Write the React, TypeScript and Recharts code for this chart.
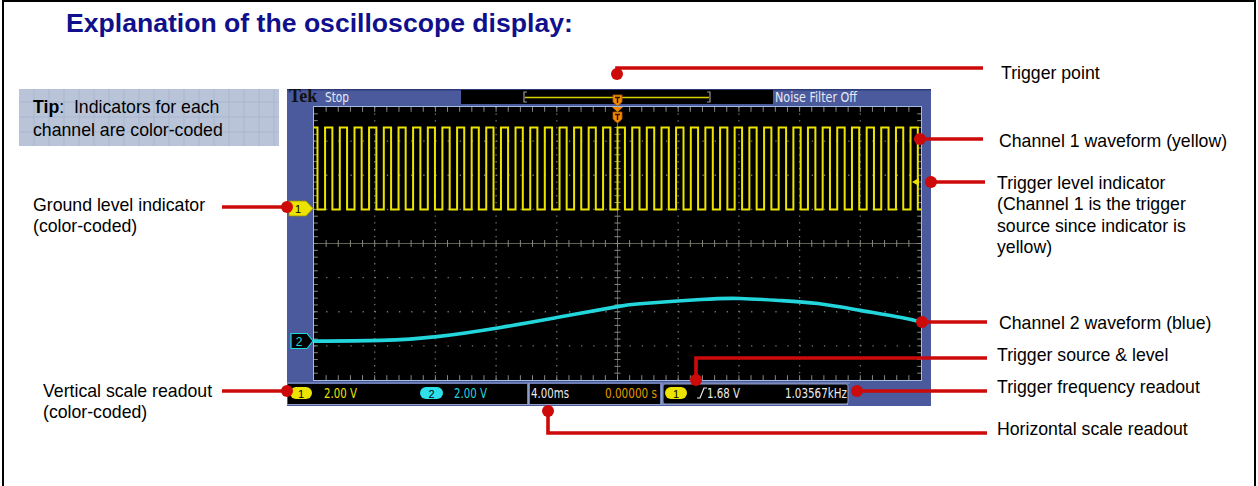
import React from 'react';
import { ComposedChart, Line, XAxis, YAxis, ReferenceLine } from 'recharts';

// ---- data (time in ms, amplitude in screen divisions) ----
const timeTicks = [-20, -16, -12, -8, -4, 0, 4, 8, 12, 16, 20];
const divTicks = [-4, -3, -2, -1, 0, 1, 2, 3, 4];

const ch1HighDiv = 3.4;
const ch1LowDiv = 1.0;
const ch1Rising = [
  -19.27, -18.3, -17.33, -16.37, -15.4, -14.43, -13.47, -12.5, -11.54, -10.57,
  -9.61, -8.65, -7.68, -6.72, -5.75, -4.79, -3.82, -2.86, -1.9, -0.95, 0,
  0.97, 1.93, 2.9, 3.86, 4.83, 5.79, 6.76, 7.72, 8.69, 9.66, 10.62, 11.59,
  12.55, 13.52, 14.48, 15.45, 16.42, 17.38, 18.35, 19.31,
];
const ch1Falling = [
  -19.77, -18.79, -17.82, -16.86, -15.89, -14.92, -13.96, -12.99, -12.03, -11.06,
  -10.1, -9.14, -8.17, -7.21, -6.24, -5.28, -4.31, -3.35, -2.39, -1.43, -0.47,
  0.49, 1.45, 2.42, 3.38, 4.35, 5.31, 6.28, 7.24, 8.21, 9.17, 10.14, 11.11,
  12.07, 13.04, 14.0, 14.97, 15.93, 16.9, 17.86, 18.83, 19.79,
];

const ch2Time = [-20, -15.6, -11.9, -7.7, -4.0, 0, 1.7, 5.5, 8.1, 10.7, 13.2, 16.0, 18.7, 20];
const ch2Div = [-2.86, -2.84, -2.73, -2.46, -2.17, -1.85, -1.76, -1.64, -1.61, -1.67, -1.76, -1.96, -2.17, -2.3];

// ---- build series tables ----
const ch1Edges = [
  ...ch1Rising.map((t) => ({ t, to: ch1HighDiv })),
  ...ch1Falling.map((t) => ({ t, to: ch1LowDiv })),
].sort((a, b) => a.t - b.t);
const ch1Data: { t: number; v: number }[] = [{ t: -20, v: ch1HighDiv }];
{
  let level = ch1HighDiv;
  ch1Edges.forEach((e) => {
    ch1Data.push({ t: e.t, v: level });
    ch1Data.push({ t: e.t, v: e.to });
    level = e.to;
  });
  ch1Data.push({ t: 20, v: level });
}
const ch2Data = ch2Time.map((t, i) => ({ t, v: ch2Div[i] }));

// decoration: minor graticule ticks
const minorT = Array.from({ length: 49 }, (_, i) => -19.2 + i * 0.8);
const minorD = Array.from({ length: 39 }, (_, i) => -3.8 + i * 0.2);

const SANS = '"Liberation Sans", Arial, sans-serif';
const NARROW = '"Liberation Sans Narrow", "DejaVu Sans Condensed", "Arial Narrow", sans-serif';
const RED = '#cc0a0a';
const FRAME = '#4a5a9c';
const YEL = '#ece400';
const CYAN = '#22d6dc';

function Scope() {
  const tickStroke = '#8a8a80';
  return (
    <ComposedChart width={607} height={273} margin={{ top: 0, right: 0, bottom: 0, left: 0 }}>
      <XAxis hide type="number" dataKey="t" domain={[-20, 20]} ticks={timeTicks} allowDataOverflow />
      <YAxis hide type="number" domain={[-4, 4]} ticks={divTicks} allowDataOverflow />
      {timeTicks
        .filter((t) => t !== 0 && Math.abs(t) !== 20)
        .map((t) => (
          <ReferenceLine key={'gx' + t} x={t} stroke="#777" strokeWidth={1.3} strokeDasharray="1.3 5.5" />
        ))}
      {divTicks
        .filter((d) => d !== 0 && Math.abs(d) !== 4)
        .map((d) => (
          <ReferenceLine key={'gy' + d} y={d} stroke="#777" strokeWidth={1.3} strokeDasharray="1.3 10.84" />
        ))}
      <ReferenceLine x={0} stroke="#5e5e52" strokeWidth={1} />
      <ReferenceLine y={0} stroke="#5e5e52" strokeWidth={1} />
      {minorT.map((t) => (
        <ReferenceLine key={'mc' + t} segment={[{ x: t, y: -0.1 }, { x: t, y: 0.1 }]} stroke={tickStroke} />
      ))}
      {minorT.map((t) => (
        <ReferenceLine key={'mt' + t} segment={[{ x: t, y: 4 }, { x: t, y: 3.86 }]} stroke={tickStroke} />
      ))}
      {minorT.map((t) => (
        <ReferenceLine key={'mb' + t} segment={[{ x: t, y: -4 }, { x: t, y: -3.86 }]} stroke={tickStroke} />
      ))}
      {minorD.map((d) => (
        <ReferenceLine key={'vc' + d} segment={[{ x: -0.2, y: d }, { x: 0.2, y: d }]} stroke={tickStroke} />
      ))}
      {minorD.map((d) => (
        <ReferenceLine key={'vl' + d} segment={[{ x: -20, y: d }, { x: -19.75, y: d }]} stroke={tickStroke} />
      ))}
      {minorD.map((d) => (
        <ReferenceLine key={'vr' + d} segment={[{ x: 20, y: d }, { x: 19.75, y: d }]} stroke={tickStroke} />
      ))}
      <Line
        data={ch2Data}
        dataKey="v"
        type="natural"
        stroke={CYAN}
        strokeWidth={3.6}
        dot={false}
        isAnimationActive={false}
      />
      <Line
        data={ch1Data}
        dataKey="v"
        type="linear"
        stroke={YEL}
        strokeWidth={2}
        dot={false}
        isAnimationActive={false}
      />
    </ComposedChart>
  );
}

function TMarker({ x, y }: { x: number; y: number }) {
  return (
    <g>
      <polygon
        points={`${x - 4.5},${y} ${x + 4.5},${y} ${x + 4.5},${y + 7} ${x},${y + 11} ${x - 4.5},${y + 7}`}
        fill="#f28a00"
        stroke="#b85a00"
        strokeWidth={0.8}
      />
      <path d={`M${x - 2.5},${y + 2.5} H${x + 2.5} M${x},${y + 2.5} V${y + 8}`} stroke="#2a1400" strokeWidth={1.4} />
    </g>
  );
}

function NText({ x, y, w, fill, children, anchor }: { x: number; y: number; w: number; fill: string; children: string; anchor?: string }) {
  const sx = anchor === 'end' ? x - w : x;
  return (
    <text x={sx} y={y} fontFamily={NARROW} fontSize={14} fill={fill} textLength={w} lengthAdjust="spacingAndGlyphs">
      {children}
    </text>
  );
}

export default function App() {
  const labels: [string, number, number][] = [
    ['Trigger point', 1001, 79],
    ['Channel 1 waveform (yellow)', 999, 147],
    ['Trigger level indicator', 997, 189],
    ['(Channel 1 is the trigger', 997, 210],
    ['source since indicator is', 997, 232],
    ['yellow)', 997, 253],
    ['Channel 2 waveform (blue)', 999, 329],
    ['Trigger source & level', 997, 361],
    ['Trigger frequency readout', 997, 393],
    ['Horizontal scale readout', 997, 435],
    ['Ground level indicator', 33, 211],
    ['(color-coded)', 33, 232],
    ['Vertical scale readout', 43, 397],
    ['(color-coded)', 43, 418],
  ];
  const tipGridX = Array.from({ length: 17 }, (_, i) => 19 + 15 * (i + 1));
  const tipGridY = [102, 117, 132];
  return (
    <div style={{ position: 'absolute', left: 0, top: 0, width: 1258, height: 486, background: '#fff', overflow: 'hidden' }}>
      {/* background layer */}
      <svg width={1258} height={486} style={{ position: 'absolute', left: 0, top: 0 }}>
        <rect x={3} y={1} width={1252} height={500} fill="none" stroke="#000" strokeWidth={2} />
        <text x={66} y={32} fontFamily={SANS} fontWeight="bold" fontSize={26.6} fill="#10108c">
          Explanation of the oscilloscope display:
        </text>
        {/* tip box */}
        <rect x={19} y={89} width={260} height={57} fill="#b9c4d9" />
        {tipGridX.map((x) => (
          <line key={'tx' + x} x1={x} y1={89} x2={x} y2={146} stroke="#a9b6ce" strokeWidth={1} />
        ))}
        {tipGridY.map((y) => (
          <line key={'ty' + y} x1={19} y1={y} x2={279} y2={y} stroke="#a9b6ce" strokeWidth={1} />
        ))}
        <text x={33} y={113} fontFamily={SANS} fontSize={17.7} fill="#000" style={{ whiteSpace: 'pre' }}>
          <tspan fontWeight="bold">Tip</tspan>
          <tspan>{':  Indicators for each'}</tspan>
        </text>
        <text x={33} y={136} fontFamily={SANS} fontSize={17.7} fill="#000">
          channel are color-coded
        </text>
        {labels.map(([s, x, y], i) => (
          <text key={'lb' + i} x={x} y={y} fontFamily={SANS} fontSize={17.7} fill="#000">
            {s}
          </text>
        ))}
        {/* scope frame */}
        <rect x={287} y={89} width={644} height={317} fill={FRAME} />
        <rect x={287} y={89} width={644} height={1.5} fill="#2c3a78" />
        <text x={289} y={102} fontFamily='"Liberation Serif", "DejaVu Serif", serif' fontWeight="bold" fontSize={18} fill="#111">
          Tek
        </text>
        <NText x={325} y={102} w={24} fill="#e6e9f4">Stop</NText>
        <rect x={461} y={90} width={312} height={14} fill="#000" />
        <path d="M527,92 H524 V102 H527 M707,92 H710 V102 H707" stroke="#9a9a9a" strokeWidth={1.2} fill="none" />
        <line x1={525} y1={97.5} x2={709} y2={97.5} stroke="#d6cf00" strokeWidth={1.6} />
        <NText x={775} y={102} w={82} fill="#e6e9f4">Noise Filter Off</NText>
        <rect x={313.5} y={106.5} width={608} height={274} fill="#000" stroke="#a2bce2" strokeWidth={1} />
        {/* bottom readout bar */}
        <line x1={287} y1={383} x2={850} y2={383} stroke="#8e9cc8" strokeWidth={1} />
        <rect x={288} y={384} width={239} height={20} fill="#000" />
        <rect x={530} y={384} width={130} height={20} fill="#000" />
        <rect x={663} y={384} width={185} height={20} rx={2} fill="#000" stroke="#8e9cc8" strokeWidth={1} />
        <line x1={528.5} y1={384} x2={528.5} y2={404} stroke="#8e9cc8" strokeWidth={2} strokeLinecap="round" />
        <line x1={661.5} y1={384} x2={661.5} y2={404} stroke="#8e9cc8" strokeWidth={2} strokeLinecap="round" />
        <line x1={287} y1={404.5} x2={848} y2={404.5} stroke="#8e9cc8" strokeWidth={1} />
        <rect x={290} y={387} width={22} height={12} rx={6} fill={YEL} />
        <text x={301} y={398} textAnchor="middle" fontFamily={SANS} fontSize={11} fill="#000">1</text>
        <NText x={324} y={398} w={33} fill={YEL}>2.00 V</NText>
        <rect x={420} y={387} width={23} height={12} rx={6} fill="#2ee0ea" />
        <text x={431.5} y={398} textAnchor="middle" fontFamily={SANS} fontSize={11} fill="#000">2</text>
        <NText x={454} y={398} w={33} fill={CYAN}>2.00 V</NText>
        <NText x={531} y={398} w={38} fill="#ececec">4.00ms</NText>
        <NText x={657} y={398} w={52} fill="#e29a00" anchor="end">0.00000 s</NText>
        <rect x={665} y={387} width={22} height={12} rx={6} fill={YEL} />
        <text x={676} y={398} textAnchor="middle" fontFamily={SANS} fontSize={11} fill="#000">1</text>
        <path d="M697,398 H700 L704,388 H707" stroke="#ececec" strokeWidth={1.2} fill="none" />
        <NText x={707} y={398} w={33} fill="#ececec">1.68 V</NText>
        <NText x={847} y={398} w={62} fill="#ececec" anchor="end">1.03567kHz</NText>
      </svg>

      {/* chart layer: oscilloscope screen */}
      <div style={{ position: 'absolute', left: 314, top: 107, width: 607, height: 273, background: '#000' }}>
        <Scope />
      </div>

      {/* overlay: markers and callouts */}
      <svg width={1258} height={486} style={{ position: 'absolute', left: 0, top: 0, pointerEvents: 'none' }}>
        <TMarker x={617.5} y={95} />
        <polygon points="612,107 623,107 617.5,112" fill="#f28a00" />
        <TMarker x={617.5} y={112} />
        <polygon points="289,201 306,201 313,208.5 306,216 289,216" fill={YEL} stroke="#9c8c00" strokeWidth={0.8} />
        <text x={298} y={213} textAnchor="middle" fontFamily={SANS} fontSize={11} fill="#000">1</text>
        <polygon points="291,333.5 307,333.5 313,341 307,348.5 291,348.5" fill="#000" stroke={CYAN} strokeWidth={1.2} />
        <text x={299} y={345.5} textAnchor="middle" fontFamily={SANS} fontSize={12} fill={CYAN}>2</text>
        <polygon points="912,182 919,178 919,186" fill={YEL} />

        <g stroke={RED} strokeWidth={3.6} fill="none">
          <path d="M617,74 V68 H983" />
          <path d="M920,139 H983" />
          <path d="M931,182 H985" />
          <path d="M922,322 H987" />
          <path d="M696,380 V358 H987" />
          <path d="M857,391 H987" />
          <path d="M548,411 V433 H987" />
          <path d="M222,207 H287" />
          <path d="M222,391 H287" />
        </g>
        <g fill={RED}>
          <circle cx={617} cy={74} r={6} />
          <circle cx={920} cy={139} r={6} />
          <circle cx={931} cy={182} r={6} />
          <circle cx={922} cy={322} r={6} />
          <circle cx={696} cy={380} r={6} />
          <circle cx={857} cy={391} r={6} />
          <circle cx={548} cy={411} r={6} />
          <circle cx={287} cy={207} r={6} />
          <circle cx={287} cy={391} r={6} />
        </g>
      </svg>
    </div>
  );
}
